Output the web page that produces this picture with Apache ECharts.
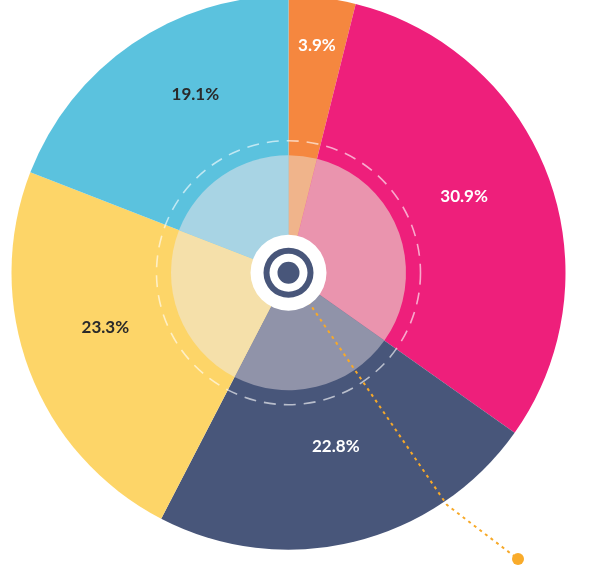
<!DOCTYPE html>
<html>
<head>
<meta charset="utf-8">
<script src="https://cdn.jsdelivr.net/npm/echarts@6/dist/echarts.min.js"></script>
<style>
html,body{margin:0;padding:0;background:#fff;}
#chart{width:600px;height:565px;}
</style>
</head>
<body>
<div id="chart"></div>
<script>
// ---- data ----
const categories = ['A', 'B', 'C', 'D', 'E'];
const values = [3.9, 30.9, 22.8, 23.3, 19.1];
const labelTexts = ['3.9%', '30.9%', '22.8%', '23.3%', '19.1%'];

// ---- styles ----
const colors = ['#F5873F', '#EE1F7B', '#48567A', '#FDD568', '#5BC2DE'];
const lightColors = ['#F0B48B', '#EA94AE', '#9093A9', '#F5E0AA', '#A8D4E4'];
const labelColors = ['#ffffff', '#ffffff', '#ffffff', '#2a2a2a', '#2a2a2a'];
const labelNudges = [[5, -37], [-4, -10], [2, -12], [-4, -13], [15, -20]];

const CX = 288.5, CY = 272.7, R = 277;

const chart = echarts.init(document.getElementById('chart'));

const mainData = categories.map((c, i) => ({ name: c, value: values[i], itemStyle: { color: colors[i] } }));
const innerData = categories.map((c, i) => ({ name: c, value: values[i], itemStyle: { color: lightColors[i] } }));
const labelData = categories.map((c, i) => ({
  name: c, value: values[i],
  itemStyle: { color: 'rgba(0,0,0,0)' },
  label: { color: labelColors[i] }
}));

const elbowR = 281, elbowAng = Math.atan2(505 - CY, 447 - CX);
const elbow = [CX + elbowR * Math.cos(elbowAng), CY + elbowR * Math.sin(elbowAng)];
const dotPt = [518, 559];

const option = {
  backgroundColor: '#ffffff',
  animation: false,
  polar: { center: [CX, CY], radius: 132 },
  angleAxis: {
    type: 'value', min: 0, max: 360, z: 3,
    axisLine: { show: true, lineStyle: { color: 'rgba(255,255,255,0.62)', width: 1.6, type: [12, 8] } },
    axisTick: { show: false }, axisLabel: { show: false }, splitLine: { show: false }
  },
  radiusAxis: { show: false, min: 0, max: 1 },
  graphic: [
    {
      type: 'polyline', z: 4, silent: true,
      shape: { points: [[CX, CY], elbow, [dotPt[0] - 4, dotPt[1] - 3]] },
      style: { stroke: '#F7A928', lineWidth: 2, lineDash: [3, 4], fill: null }
    },
    {
      type: 'circle', z: 4, silent: true,
      shape: { cx: dotPt[0], cy: dotPt[1], r: 6 },
      style: { fill: '#F9AB2A' }
    }
  ],
  series: [
    {
      type: 'pie', z: 1, center: [CX, CY], radius: [0, R], startAngle: 90, clockwise: true,
      silent: true, label: { show: false }, labelLine: { show: false },
      data: mainData
    },
    {
      type: 'pie', z: 2, center: [CX, CY], radius: [0, 117.5], startAngle: 90, clockwise: true,
      silent: true, label: { show: false }, labelLine: { show: false },
      data: innerData
    },
    {
      type: 'pie', z: 6, center: [CX, CY], radius: [100, R], startAngle: 90, clockwise: true,
      silent: true,
      label: {
        show: true, position: 'inside',
        formatter: p => labelTexts[p.dataIndex],
        fontFamily: 'Lato', fontWeight: 'bold', fontSize: 17
      },
      labelLayout: p => ({ dx: labelNudges[p.dataIndex][0], dy: labelNudges[p.dataIndex][1] }),
      labelLine: { show: false },
      data: labelData
    },
    {
      type: 'pie', z: 5, center: [CX, CY], radius: [0, 38], silent: true,
      label: { show: false }, labelLine: { show: false },
      data: [{ value: 1, itemStyle: { color: '#ffffff' } }]
    },
    {
      type: 'pie', z: 5, center: [CX, CY], radius: [19, 25], silent: true,
      label: { show: false }, labelLine: { show: false },
      data: [{ value: 1, itemStyle: { color: '#48567A' } }]
    },
    {
      type: 'pie', z: 5, center: [CX, CY], radius: [0, 11], silent: true,
      label: { show: false }, labelLine: { show: false },
      data: [{ value: 1, itemStyle: { color: '#48567A' } }]
    }
  ]
};

chart.setOption(option);
</script>
</body>
</html>
